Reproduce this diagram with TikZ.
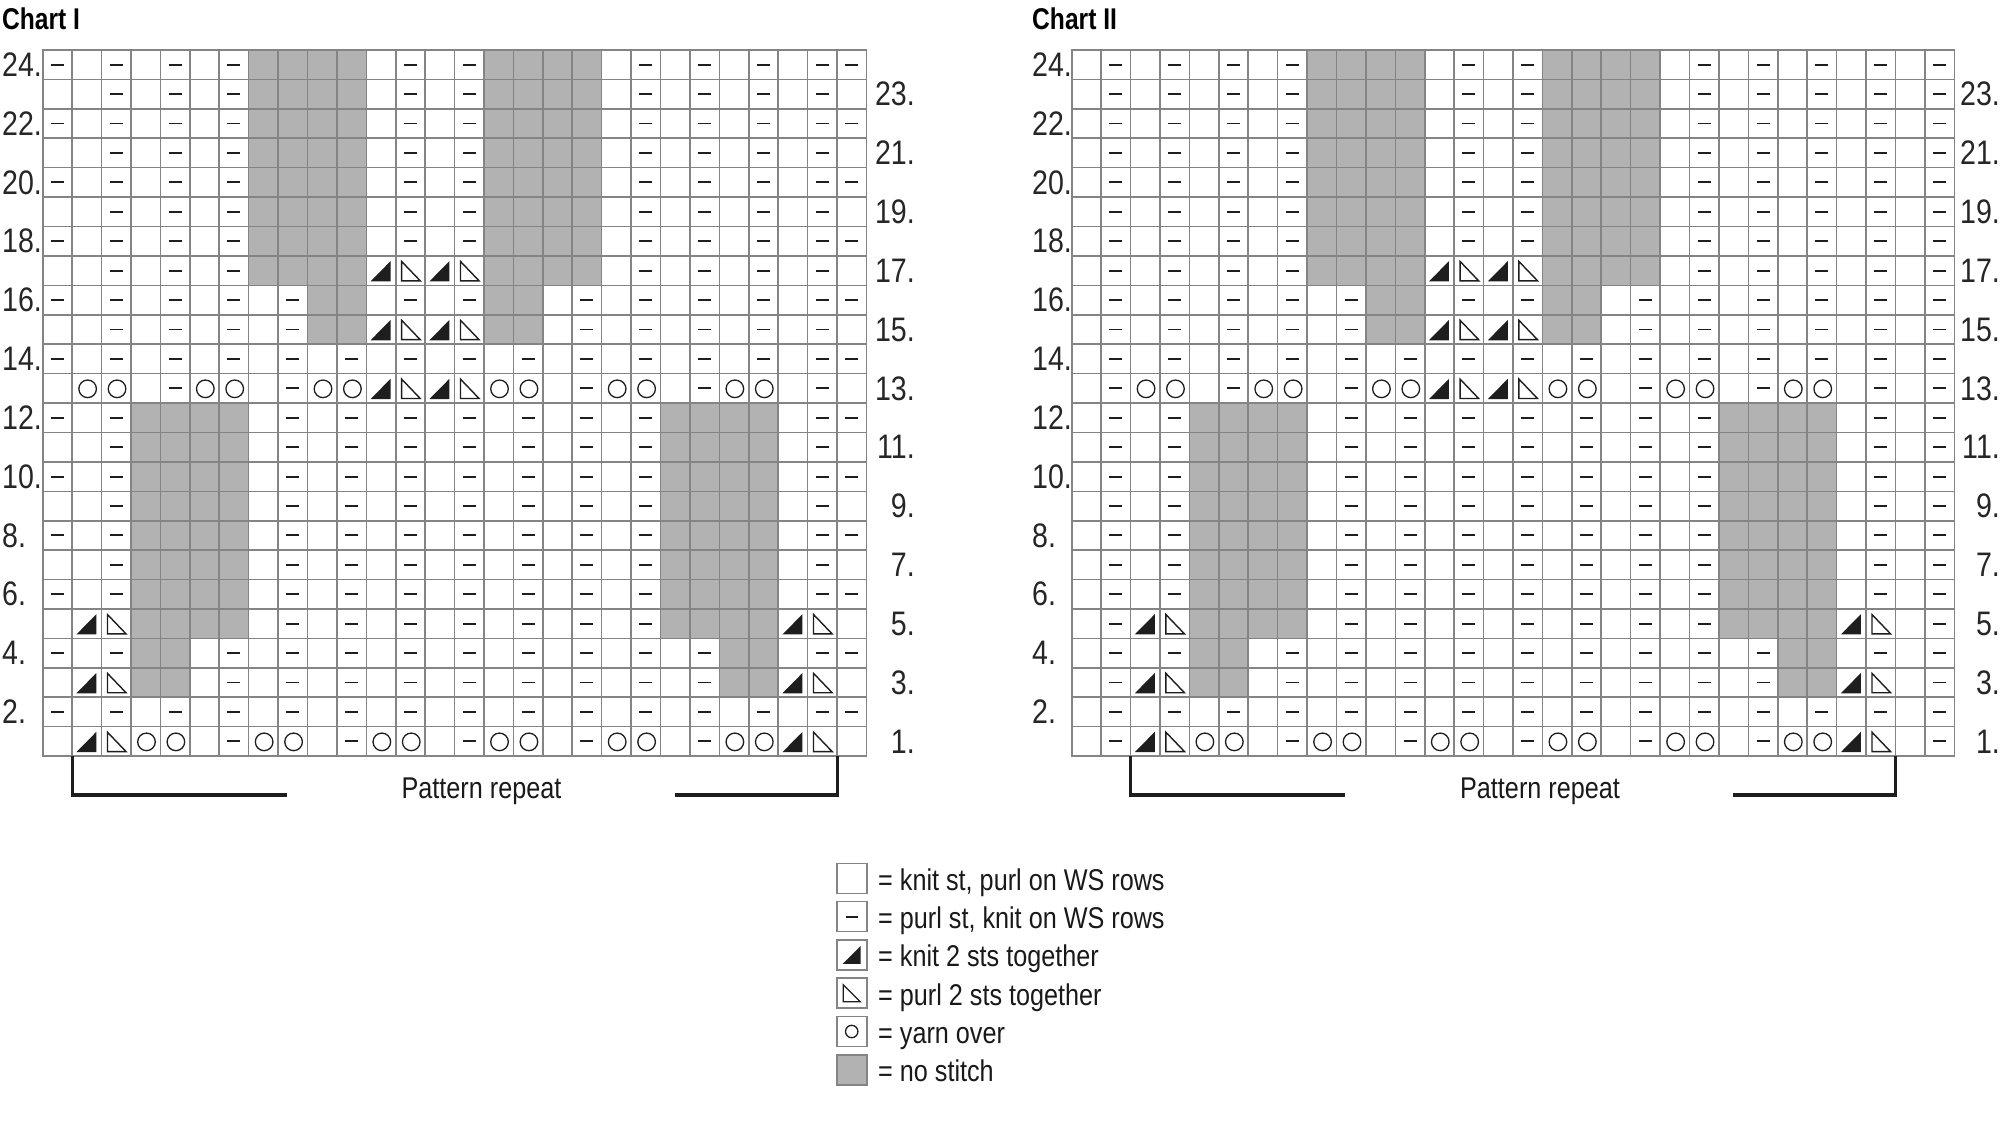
\documentclass[tikz,border=0pt]{standalone}
\usepackage{fontspec}
\setmainfont{Liberation Sans}
\newfontfamily\labfont{Liberation Sans}[FakeStretch=0.84]
\newfontfamily\titfont{Liberation Sans}[FakeStretch=0.82]
\definecolor{gridc}{RGB}{132,132,132}
\definecolor{nost}{RGB}{178,178,178}
\definecolor{ink}{RGB}{30,30,30}
\tikzset{
 gridline/.style={draw=gridc, line width=1.6pt},
 nostitch/.style={fill=nost},
 dashsym/.style={draw=ink, line width=1.9pt},
 yosym/.style={draw=ink, line width=1.3pt},
 ktog/.style={fill=ink},
 ptog/.style={draw=ink, line width=1.4pt, line join=miter},
 bracket/.style={draw=ink, line width=3.2pt},
 rowlab/.style={font=\labfont\fontsize{34}{40}\selectfont, inner sep=0pt, text=black!85},
 legtext/.style={font=\labfont\fontsize{30}{36}\selectfont, inner sep=0pt, text=black!90},
 charttitle/.style={font=\titfont\bfseries\fontsize{30}{36}\selectfont, inner sep=0pt},
 legbox/.style={draw=gridc, line width=1.6pt},
}
% cell symbols: #1 = centre x, #2 = centre y (y grows downwards)
\newcommand\kSymk[2]{}
\newcommand\kSymp[2]{\draw[dashsym] (#1-6.5,#2) -- (#1+6.5,#2);}
\newcommand\kSymG[2]{\fill[nostitch] (#1-14.71,#2-14.71) rectangle (#1+14.71,#2+14.71);}
\newcommand\kSymO[2]{\draw[yosym] (#1+0.8,#2+0.5) circle (8.8);}
\newcommand\kSymK[2]{\fill[ktog] (#1-10.5,#2+10.8) -- (#1+9.5,#2+10.8) -- (#1+9.5,#2-9.5) -- cycle;}
\newcommand\kSymP[2]{\draw[ptog] (#1-8.8,#2-9.2) -- (#1-8.8,#2+10.2) -- (#1+9.8,#2+10.2) -- cycle;}
\newcommand\knitchart[2]{%
 \foreach \row [count=\r] in {#2}{%
   \foreach \c [count=\i] in \row {%
     \pgfmathsetmacro\cx{#1+(\i-0.5)*29.42}%
     \pgfmathsetmacro\cy{50+(\r-0.5)*29.42}%
     \csname kSym\c\endcsname{\cx}{\cy}%
   }%
 }%
}
\newcommand\knitgrid[2]{% #1 = x0, #2 = number of columns
 \foreach \k in {0,...,#2} \draw[gridline] ({#1+\k*29.42},50) -- ({#1+\k*29.42},756.08);
 \foreach \j in {0,...,24} \draw[gridline] (#1,{50+\j*29.42}) -- ({#1+#2*29.42},{50+\j*29.42});
 \draw[gridline] (#1,50) rectangle ({#1+#2*29.42},756.08);
}
\begin{document}
\begin{tikzpicture}[x=1pt,y=-1pt]
\useasboundingbox (0,0) rectangle (2000,1129);
\fill[white] (0,0) rectangle (2000,1129);

% ---------------- Chart I ----------------
\knitchart{42.7}{%
{p,k,p,k,p,k,p,G,G,G,G,k,p,k,p,G,G,G,G,k,p,k,p,k,p,k,p,p},%24
{k,k,p,k,p,k,p,G,G,G,G,k,p,k,p,G,G,G,G,k,p,k,p,k,p,k,p,k},%23
{p,k,p,k,p,k,p,G,G,G,G,k,p,k,p,G,G,G,G,k,p,k,p,k,p,k,p,p},%22
{k,k,p,k,p,k,p,G,G,G,G,k,p,k,p,G,G,G,G,k,p,k,p,k,p,k,p,k},%21
{p,k,p,k,p,k,p,G,G,G,G,k,p,k,p,G,G,G,G,k,p,k,p,k,p,k,p,p},%20
{k,k,p,k,p,k,p,G,G,G,G,k,p,k,p,G,G,G,G,k,p,k,p,k,p,k,p,k},%19
{p,k,p,k,p,k,p,G,G,G,G,k,p,k,p,G,G,G,G,k,p,k,p,k,p,k,p,p},%18
{k,k,p,k,p,k,p,G,G,G,G,K,P,K,P,G,G,G,G,k,p,k,p,k,p,k,p,k},%17
{p,k,p,k,p,k,p,k,p,G,G,k,p,k,p,G,G,k,p,k,p,k,p,k,p,k,p,p},%16
{k,k,p,k,p,k,p,k,p,G,G,K,P,K,P,G,G,k,p,k,p,k,p,k,p,k,p,k},%15
{p,k,p,k,p,k,p,k,p,k,p,k,p,k,p,k,p,k,p,k,p,k,p,k,p,k,p,p},%14
{k,O,O,k,p,O,O,k,p,O,O,K,P,K,P,O,O,k,p,O,O,k,p,O,O,k,p,k},%13
{p,k,p,G,G,G,G,k,p,k,p,k,p,k,p,k,p,k,p,k,p,G,G,G,G,k,p,p},%12
{k,k,p,G,G,G,G,k,p,k,p,k,p,k,p,k,p,k,p,k,p,G,G,G,G,k,p,k},%11
{p,k,p,G,G,G,G,k,p,k,p,k,p,k,p,k,p,k,p,k,p,G,G,G,G,k,p,p},%10
{k,k,p,G,G,G,G,k,p,k,p,k,p,k,p,k,p,k,p,k,p,G,G,G,G,k,p,k},%9
{p,k,p,G,G,G,G,k,p,k,p,k,p,k,p,k,p,k,p,k,p,G,G,G,G,k,p,p},%8
{k,k,p,G,G,G,G,k,p,k,p,k,p,k,p,k,p,k,p,k,p,G,G,G,G,k,p,k},%7
{p,k,p,G,G,G,G,k,p,k,p,k,p,k,p,k,p,k,p,k,p,G,G,G,G,k,p,p},%6
{k,K,P,G,G,G,G,k,p,k,p,k,p,k,p,k,p,k,p,k,p,G,G,G,G,K,P,k},%5
{p,k,p,G,G,k,p,k,p,k,p,k,p,k,p,k,p,k,p,k,p,k,p,G,G,k,p,p},%4
{k,K,P,G,G,k,p,k,p,k,p,k,p,k,p,k,p,k,p,k,p,k,p,G,G,K,P,k},%3
{p,k,p,k,p,k,p,k,p,k,p,k,p,k,p,k,p,k,p,k,p,k,p,k,p,k,p,p},%2
{k,K,P,O,O,k,p,O,O,k,p,O,O,k,p,O,O,k,p,O,O,k,p,O,O,K,P,k}%1
}
\knitgrid{42.7}{28}

% ---------------- Chart II ----------------
\knitchart{1071.7}{%
{k,p,k,p,k,p,k,p,G,G,G,G,k,p,k,p,G,G,G,G,k,p,k,p,k,p,k,p,k,p},%24
{k,p,k,p,k,p,k,p,G,G,G,G,k,p,k,p,G,G,G,G,k,p,k,p,k,p,k,p,k,p},%23
{k,p,k,p,k,p,k,p,G,G,G,G,k,p,k,p,G,G,G,G,k,p,k,p,k,p,k,p,k,p},%22
{k,p,k,p,k,p,k,p,G,G,G,G,k,p,k,p,G,G,G,G,k,p,k,p,k,p,k,p,k,p},%21
{k,p,k,p,k,p,k,p,G,G,G,G,k,p,k,p,G,G,G,G,k,p,k,p,k,p,k,p,k,p},%20
{k,p,k,p,k,p,k,p,G,G,G,G,k,p,k,p,G,G,G,G,k,p,k,p,k,p,k,p,k,p},%19
{k,p,k,p,k,p,k,p,G,G,G,G,k,p,k,p,G,G,G,G,k,p,k,p,k,p,k,p,k,p},%18
{k,p,k,p,k,p,k,p,G,G,G,G,K,P,K,P,G,G,G,G,k,p,k,p,k,p,k,p,k,p},%17
{k,p,k,p,k,p,k,p,k,p,G,G,k,p,k,p,G,G,k,p,k,p,k,p,k,p,k,p,k,p},%16
{k,p,k,p,k,p,k,p,k,p,G,G,K,P,K,P,G,G,k,p,k,p,k,p,k,p,k,p,k,p},%15
{k,p,k,p,k,p,k,p,k,p,k,p,k,p,k,p,k,p,k,p,k,p,k,p,k,p,k,p,k,p},%14
{k,p,O,O,k,p,O,O,k,p,O,O,K,P,K,P,O,O,k,p,O,O,k,p,O,O,k,p,k,p},%13
{k,p,k,p,G,G,G,G,k,p,k,p,k,p,k,p,k,p,k,p,k,p,G,G,G,G,k,p,k,p},%12
{k,p,k,p,G,G,G,G,k,p,k,p,k,p,k,p,k,p,k,p,k,p,G,G,G,G,k,p,k,p},%11
{k,p,k,p,G,G,G,G,k,p,k,p,k,p,k,p,k,p,k,p,k,p,G,G,G,G,k,p,k,p},%10
{k,p,k,p,G,G,G,G,k,p,k,p,k,p,k,p,k,p,k,p,k,p,G,G,G,G,k,p,k,p},%9
{k,p,k,p,G,G,G,G,k,p,k,p,k,p,k,p,k,p,k,p,k,p,G,G,G,G,k,p,k,p},%8
{k,p,k,p,G,G,G,G,k,p,k,p,k,p,k,p,k,p,k,p,k,p,G,G,G,G,k,p,k,p},%7
{k,p,k,p,G,G,G,G,k,p,k,p,k,p,k,p,k,p,k,p,k,p,G,G,G,G,k,p,k,p},%6
{k,p,K,P,G,G,G,G,k,p,k,p,k,p,k,p,k,p,k,p,k,p,G,G,G,G,K,P,k,p},%5
{k,p,k,p,G,G,k,p,k,p,k,p,k,p,k,p,k,p,k,p,k,p,k,p,G,G,k,p,k,p},%4
{k,p,K,P,G,G,k,p,k,p,k,p,k,p,k,p,k,p,k,p,k,p,k,p,G,G,K,P,k,p},%3
{k,p,k,p,k,p,k,p,k,p,k,p,k,p,k,p,k,p,k,p,k,p,k,p,k,p,k,p,k,p},%2
{k,p,K,P,O,O,k,p,O,O,k,p,O,O,k,p,O,O,k,p,O,O,k,p,O,O,K,P,k,p}%1
}
\knitgrid{1071.7}{30}

% ---------------- titles ----------------
\node[charttitle, anchor=base west] (t1) at (2,30) {Chart I};
\node[charttitle, anchor=base west] (t2) at (1032,30) {Chart II};

% ---------------- row numbers ----------------
\foreach \n in {2,4,...,24} {
  \node[rowlab, anchor=west] (la\n) at (2,{50+(24-\n+0.5)*29.42}) {\n.};
  \node[rowlab, anchor=west] (lb\n) at (1032,{50+(24-\n+0.5)*29.42}) {\n.};
}
\foreach \n in {1,3,...,23} {
  \node[rowlab, anchor=east] (ra\n) at (915,{50+(24-\n+0.5)*29.42}) {\n.};
  \node[rowlab, anchor=east] (rb\n) at (2000,{50+(24-\n+0.5)*29.42}) {\n.};
}

% ---------------- pattern repeat brackets ----------------
\node[legtext, anchor=base] (pr1) at (481.5,798) {Pattern repeat};
\coordinate (a1) at (72.1,756.08);
\coordinate (a2) at (72.1,795);
\coordinate (a3) at (286.7,795);
\coordinate (a4) at (675,795);
\coordinate (a5) at (837.3,795);
\coordinate (a6) at (837.3,756.08);
\draw[bracket] (a1) -- (a2) -- (a3);
\draw[bracket] (a4) -- (a5) -- (a6);

\node[legtext, anchor=base] (pr2) at (1540,798) {Pattern repeat};
\coordinate (b1) at (1130.5,756.08);
\coordinate (b2) at (1130.5,795);
\coordinate (b3) at (1345,795);
\coordinate (b4) at (1733,795);
\coordinate (b5) at (1895.5,795);
\coordinate (b6) at (1895.5,756.08);
\draw[bracket] (b1) -- (b2) -- (b3);
\draw[bracket] (b4) -- (b5) -- (b6);

% ---------------- legend ----------------
% item centres: x 851.7, y 878.3 + 38.3 i
\draw[legbox] (836.7,863.3) rectangle (866.7,893.3);
\node[legtext, anchor=base west] (lg1) at (878,890.3) {= knit st, purl on WS rows};

\draw[legbox] (836.7,901.6) rectangle (866.7,931.6);
\draw[dashsym] (845.9,916.6) -- (857.5,916.6);
\node[legtext, anchor=base west] (lg2) at (878,928.6) {= purl st, knit on WS rows};

\draw[legbox] (836.7,939.9) rectangle (866.7,969.9);
\fill[ktog] (842.7,963.9) -- (860.7,963.9) -- (860.7,945.9) -- cycle;
\node[legtext, anchor=base west] (lg3) at (878,966.9) {= knit 2 sts together};

\draw[legbox] (836.7,978.2) rectangle (866.7,1008.2);
\draw[ptog] (843.2,984.7) -- (843.2,1001.7) -- (860.2,1001.7) -- cycle;
\node[legtext, anchor=base west] (lg4) at (878,1005.2) {= purl 2 sts together};

\draw[legbox] (836.7,1016.5) rectangle (866.7,1046.5);
\draw[yosym] (851.7,1031.5) circle (6.2);
\node[legtext, anchor=base west] (lg5) at (878,1043.5) {= yarn over};

\fill[nostitch] (836.7,1054.8) rectangle (866.7,1084.8);
\draw[legbox] (836.7,1054.8) rectangle (866.7,1084.8);
\node[legtext, anchor=base west] (lg6) at (878,1081.8) {= no stitch};
\end{tikzpicture}
\end{document}
